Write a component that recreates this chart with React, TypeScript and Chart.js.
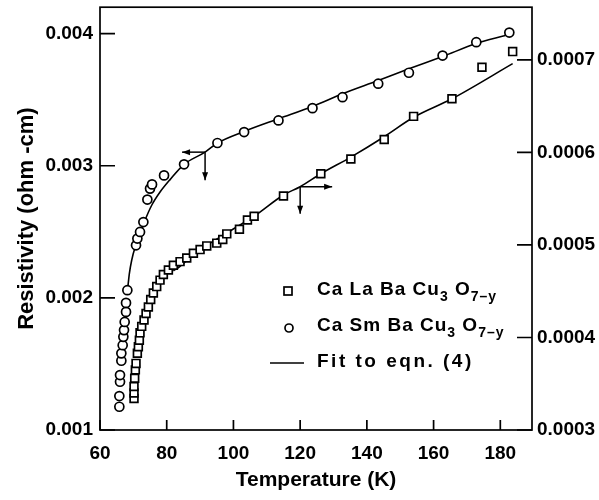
import { useEffect, useRef } from 'react';
import { Chart, registerables } from 'chart.js';

Chart.register(...registerables);

// ---- axis ticks ----
const xTicks = [60, 80, 100, 120, 140, 160, 180];
const leftTicks = [0.001, 0.002, 0.003, 0.004];
const rightTicks = [0.0003, 0.0004, 0.0005, 0.0006, 0.0007];

// ---- CaSmBaCu3O7-y (circles, left axis) ----
const smT = [65.8, 65.8, 66.0, 66.0, 66.4, 66.4, 66.8, 67.0, 67.2, 67.4, 67.8, 67.8, 68.2, 70.8, 71.2, 72.0, 73.0, 74.2, 75.0, 75.6, 79.2, 85.2, 95.2, 103.2, 113.5, 123.7, 132.7, 143.4, 152.6, 162.7, 172.8, 182.7];
const smRho = [0.001176, 0.001257, 0.001365, 0.001416, 0.001524, 0.00158, 0.001642, 0.001705, 0.001756, 0.001818, 0.001894, 0.001962, 0.002058, 0.002398, 0.002449, 0.002499, 0.002574, 0.002744, 0.002827, 0.002859, 0.002927, 0.003011, 0.003172, 0.003255, 0.003343, 0.003436, 0.003519, 0.003621, 0.003704, 0.003834, 0.003935, 0.004008];

// ---- CaLaBaCu3O7-y (squares, right axis) ----
const laT = [70.2, 70.2, 70.2, 70.4, 70.6, 70.8, 71.2, 71.5, 71.8, 72.0, 72.5, 73.2, 73.8, 74.5, 75.2, 76.0, 77.0, 78.0, 79.0, 80.5, 82.0, 84.0, 86.0, 88.0, 90.0, 92.0, 95.0, 96.8, 98.0, 101.8, 104.2, 106.2, 115.0, 126.2, 135.2, 145.2, 154.0, 165.5, 174.5, 183.7];
const laRho = [0.000334, 0.00034, 0.000347, 0.000356, 0.000365, 0.000372, 0.000383, 0.00039, 0.000397, 0.000405, 0.000412, 0.000419, 0.000426, 0.000433, 0.000441, 0.000448, 0.000455, 0.000462, 0.000468, 0.000473, 0.000478, 0.000482, 0.000486, 0.000491, 0.000495, 0.000499, 0.000502, 0.000506, 0.000512, 0.000517, 0.000527, 0.000531, 0.000553, 0.000577, 0.000593, 0.000614, 0.000639, 0.000658, 0.000692, 0.000709];

// ---- fits to eqn. (4) ----
const smFitT = [68.2, 68.8, 69.5, 70.5, 72.0, 73.5, 75.5, 78.0, 81.0, 85.2, 91.5, 95.2, 103.2, 113.5, 123.7, 132.7, 143.4, 152.6, 162.7, 172.8, 181.5];
const smFitRho = [0.002045, 0.002184, 0.002285, 0.002381, 0.002481, 0.002587, 0.002701, 0.002801, 0.002895, 0.003011, 0.003103, 0.003172, 0.00326, 0.003356, 0.003449, 0.003545, 0.003645, 0.003734, 0.003827, 0.003925, 0.003986];
const laFitT = [82.0, 84.0, 88.5, 92.2, 98.0, 106.2, 115.0, 120.0, 126.2, 135.2, 145.2, 154.0, 165.5, 183.7];
const laFitRho = [0.000472, 0.000477, 0.000491, 0.0005, 0.000513, 0.000531, 0.000554, 0.000563, 0.000577, 0.000595, 0.000617, 0.000638, 0.000658, 0.000696];

// ---- axis-indicator arrows (data coords) ----
const smArrowT = 91.5;
const smArrowRho = 0.003103;
const laArrowT = 120.0;
const laArrowRho = 0.000563;

// ---- legend ----
const legendLa = [{ t: 'Ca La Ba Cu' }, { t: '3', sub: true }, { t: ' O' }, { t: '7–y', sub: true }];
const legendSm = [{ t: 'Ca Sm Ba Cu' }, { t: '3', sub: true }, { t: ' O' }, { t: '7–y', sub: true }];
const legendFit = [{ t: 'Fit to eqn. (4)' }];

const pts = (xs: number[], ys: number[]) => xs.map((x, i) => ({ x, y: ys[i] }));

function drawArrow(ctx: CanvasRenderingContext2D, x0: number, y0: number, x1: number, y1: number) {
  ctx.beginPath();
  ctx.moveTo(x0, y0);
  ctx.lineTo(x1, y1);
  ctx.stroke();
  const a = Math.atan2(y1 - y0, x1 - x0);
  const L = 8, W = 3;
  ctx.beginPath();
  ctx.moveTo(x1, y1);
  ctx.lineTo(x1 - L * Math.cos(a) + W * Math.sin(a), y1 - L * Math.sin(a) - W * Math.cos(a));
  ctx.lineTo(x1 - L * Math.cos(a) - W * Math.sin(a), y1 - L * Math.sin(a) + W * Math.cos(a));
  ctx.closePath();
  ctx.fill();
}

function drawRich(ctx: CanvasRenderingContext2D, parts: { t: string; sub?: boolean }[], x: number, y: number) {
  let cx = x;
  for (const p of parts) {
    ctx.font = p.sub ? 'bold 14px "Liberation Sans"' : 'bold 19px "Liberation Sans"';
    ctx.fillText(p.t, cx, p.sub ? y + 7 : y);
    cx += ctx.measureText(p.t).width;
  }
}

const framePlugin = {
  id: 'frame',
  afterDraw(chart: any) {
    const { ctx, chartArea: a, scales } = chart;
    const sx = scales.x, sy = scales.y, sy2 = scales.y2;
    ctx.save();
    ctx.strokeStyle = '#000';
    ctx.fillStyle = '#000';
    ctx.lineWidth = 1.7;
    ctx.strokeRect(a.left, a.top, a.right - a.left, a.bottom - a.top);
    ctx.beginPath();
    xTicks.forEach((v) => {
      const px = sx.getPixelForValue(v);
      ctx.moveTo(px, a.bottom);
      ctx.lineTo(px, a.bottom - 10);
    });
    leftTicks.forEach((v) => {
      const py = sy.getPixelForValue(v);
      ctx.moveTo(a.left, py);
      ctx.lineTo(a.left + 15, py);
    });
    rightTicks.forEach((v) => {
      const py = sy2.getPixelForValue(v);
      ctx.moveTo(a.right, py);
      ctx.lineTo(a.right - 15, py);
    });
    ctx.stroke();

    // arrows
    ctx.lineWidth = 1.5;
    const ax1 = sx.getPixelForValue(smArrowT), ay1 = sy.getPixelForValue(smArrowRho);
    drawArrow(ctx, ax1, ay1, ax1 - 23, ay1);
    drawArrow(ctx, ax1, ay1, ax1, ay1 + 28);
    const ax2 = sx.getPixelForValue(laArrowT), ay2 = sy2.getPixelForValue(laArrowRho);
    drawArrow(ctx, ax2, ay2, ax2 + 32, ay2);
    drawArrow(ctx, ax2, ay2, ax2, ay2 + 27);

    // legend
    ctx.lineWidth = 1.7;
    ctx.strokeRect(284, 287, 8, 8);
    ctx.beginPath();
    ctx.arc(289, 328, 4, 0, Math.PI * 2);
    ctx.stroke();
    ctx.beginPath();
    ctx.moveTo(270, 363);
    ctx.lineTo(304, 363);
    ctx.stroke();
    ctx.textBaseline = 'middle';
    ctx.textAlign = 'left';
    (ctx as any).letterSpacing = '1px';
    drawRich(ctx, legendLa, 317, 290);
    drawRich(ctx, legendSm, 317, 326);
    (ctx as any).letterSpacing = '2.5px';
    drawRich(ctx, legendFit, 317, 362);
    ctx.restore();
  },
};

export default function App() {
  const ref = useRef<HTMLCanvasElement>(null);
  useEffect(() => {
    const tickFont = { family: 'Liberation Sans', size: 19, weight: 'bold' };
    const chart = new Chart(ref.current!, {
      type: 'scatter',
      data: {
        datasets: [
          {
            label: 'CaSmBaCu3O7-y',
            data: pts(smT, smRho),
            yAxisID: 'y',
            pointStyle: 'circle',
            pointRadius: 4.5,
            borderColor: '#000',
            backgroundColor: '#fff',
            borderWidth: 1.7,
            showLine: false,
            order: 0,
          },
          {
            label: 'CaLaBaCu3O7-y',
            data: pts(laT, laRho),
            yAxisID: 'y2',
            pointStyle: 'rect',
            pointRadius: 5.5,
            borderColor: '#000',
            backgroundColor: '#fff',
            borderWidth: 1.7,
            showLine: false,
            order: 0,
          },
          {
            label: 'fit Sm',
            data: pts(smFitT, smFitRho),
            yAxisID: 'y',
            showLine: true,
            pointRadius: 0,
            borderColor: '#000',
            borderWidth: 1.6,
            cubicInterpolationMode: 'monotone',
            order: 1,
          },
          {
            label: 'fit La',
            data: pts(laFitT, laFitRho),
            yAxisID: 'y2',
            showLine: true,
            pointRadius: 0,
            borderColor: '#000',
            borderWidth: 1.6,
            cubicInterpolationMode: 'monotone',
            order: 1,
          },
        ],
      },
      options: {
        animation: false,
        responsive: true,
        maintainAspectRatio: false,
        layout: { padding: { top: 7, left: 0, right: 0, bottom: 0 } },
        plugins: { legend: { display: false }, tooltip: { enabled: false } },
        scales: {
          x: {
            type: 'linear',
            position: 'bottom',
            min: 60,
            max: 189.5,
            afterBuildTicks: (s: any) => {
              s.ticks = xTicks.map((v) => ({ value: v }));
            },
            afterFit: (s: any) => {
              s.height = 70;
              s.paddingLeft = 0;
              s.paddingRight = 0;
            },
            ticks: { font: tickFont, color: '#000', padding: 12, maxRotation: 0, autoSkip: false, callback: (v: any) => String(v) },
            grid: { display: false, drawTicks: false },
            border: { display: false },
            title: { display: true, text: 'Temperature (K)', color: '#000', font: { family: 'Liberation Sans', size: 21, weight: 'bold' }, padding: { top: 0, bottom: 7 } },
          },
          y: {
            type: 'linear',
            position: 'left',
            min: 0.001,
            max: 0.0042,
            afterBuildTicks: (s: any) => {
              s.ticks = leftTicks.map((v) => ({ value: v }));
            },
            afterFit: (s: any) => {
              s.width = 100;
              s.paddingTop = 0;
              s.paddingBottom = 0;
            },
            ticks: { font: tickFont, color: '#000', padding: 7, autoSkip: false, callback: (v: any) => Number(v).toFixed(3) },
            grid: { display: false, drawTicks: false },
            border: { display: false },
            title: { display: true, text: 'Resistivity (ohm -cm)', color: '#000', font: { family: 'Liberation Sans', size: 22, weight: 'bold' }, padding: { top: 14, bottom: 0 } },
          },
          y2: {
            type: 'linear',
            position: 'right',
            min: 0.0003,
            max: 0.000757,
            afterBuildTicks: (s: any) => {
              s.ticks = rightTicks.map((v) => ({ value: v }));
            },
            afterFit: (s: any) => {
              s.width = 67;
              s.paddingTop = 0;
              s.paddingBottom = 0;
            },
            ticks: { font: tickFont, color: '#000', padding: 5, autoSkip: false, callback: (v: any) => Number(v).toFixed(4) },
            grid: { display: false, drawTicks: false },
            border: { display: false },
          },
        },
      } as any,
      plugins: [framePlugin],
    });
    return () => chart.destroy();
  }, []);
  return (
    <div style={{ position: 'fixed', left: 0, top: 0, width: 599, height: 500, background: '#fff' }}>
      <canvas ref={ref} />
    </div>
  );
}
